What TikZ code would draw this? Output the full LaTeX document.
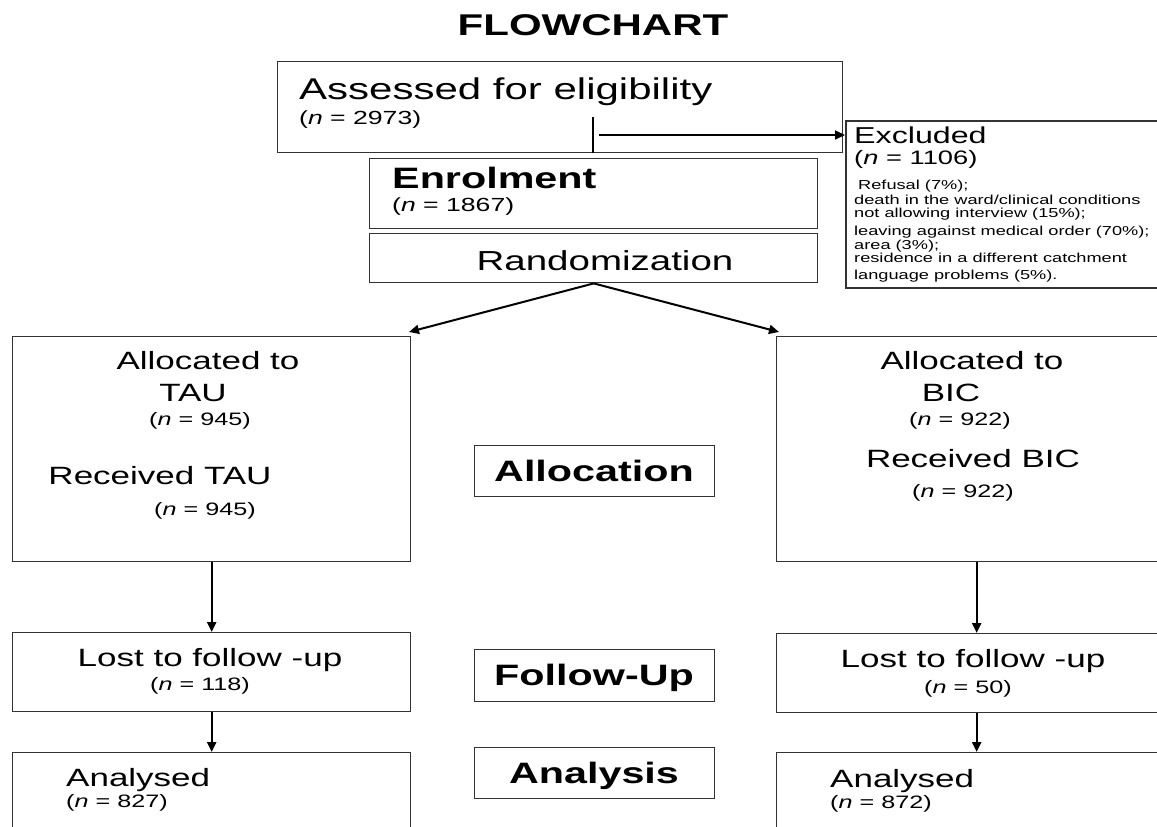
\documentclass[tikz,border=0pt]{standalone}
\usepackage{fontspec}
\setmainfont{Liberation Sans}[FakeStretch=1.4]
\usetikzlibrary{arrows.meta}
\newcommand{\fsz}[1]{\fontsize{#1pt}{#1pt}\selectfont}
\begin{document}
\begin{tikzpicture}[x=1pt,y=-1pt,
  box/.style={draw=black!80,line width=1.4pt,inner sep=0pt,anchor=north west},
  txt/.style={inner sep=0pt,anchor=base west},
  ctxt/.style={inner sep=0pt,anchor=base},
  conn/.style={line width=2.4pt,-{Triangle[length=10pt,width=9pt]}}]
\useasboundingbox (0,0) rectangle (1157,827);
\clip (0,0) rectangle (1157,827);
% title
\node[ctxt,font=\bfseries\fsz{30}] (title) at (593,35) {FLOWCHART};
% assessed
\node[box,minimum width=565pt,minimum height=91pt] (assess) at (277,61) {};
\node[txt,font=\fsz{30}] (assesst) at (299,99) {Assessed for eligibility};
\node[txt,font=\fsz{19}] (assessn) at (299,124) {(\textit{n} = 2973)};
% excluded
\node[box,minimum width=330pt,minimum height=167pt,line width=2pt] (excl) at (845,120) {};
\node[txt,font=\fsz{23}] (exclt) at (854,143) {Excluded};
\node[txt,font=\fsz{19.5}] (excln) at (854,164) {(\textit{n} = 1106)};
\node[txt,font=\fsz{13}] (ex1) at (858,189) {Refusal (7\%);};
\node[txt,font=\fsz{13}] (ex2) at (854,204) {death in the ward/clinical conditions};
\node[txt,font=\fsz{13}] (ex3) at (854,217) {not allowing interview (15\%);};
\node[txt,font=\fsz{13}] (ex4) at (854,235) {leaving against medical order (70\%);};
\node[txt,font=\fsz{13}] (ex5) at (854,249) {area (3\%);};
\node[txt,font=\fsz{13}] (ex6) at (854,262) {residence in a different catchment};
\node[txt,font=\fsz{13}] (ex7) at (854,279) {language problems (5\%).};
% enrolment
\node[box,minimum width=448pt,minimum height=70pt] (enrol) at (369,158) {};
\node[txt,font=\bfseries\fsz{29.5}] (enrolt) at (392,188) {Enrolment};
\node[txt,font=\fsz{19}] (enroln) at (392,211) {(\textit{n} = 1867)};
% randomization
\node[box,minimum width=448pt,minimum height=49pt] (rand) at (369,233) {};
\node[ctxt,font=\fsz{27.5}] (randt) at (605,270) {Randomization};
% left column
\node[box,minimum width=398pt,minimum height=225pt] (lalloc) at (12,336) {};
\node[ctxt,font=\fsz{25}] (la1) at (208,369) {Allocated to};
\node[ctxt,font=\fsz{25}] (la2) at (193,401) {TAU};
\node[ctxt,font=\fsz{18}] (la3) at (200,425) {(\textit{n} = 945)};
\node[ctxt,font=\fsz{25}] (la4) at (160,484) {Received TAU};
\node[ctxt,font=\fsz{18}] (la5) at (205,515) {(\textit{n} = 945)};
\node[box,minimum width=398pt,minimum height=79pt] (llost) at (12,632) {};
\node[ctxt,font=\fsz{25}] (ll1) at (210,666) {Lost to follow -up};
\node[ctxt,font=\fsz{18}] (ll2) at (200,690) {(\textit{n} = 118)};
\node[box,minimum width=398pt,minimum height=120pt] (lana) at (12,752) {};
\node[txt,font=\fsz{25}] (lan1) at (66,786) {Analysed};
\node[txt,font=\fsz{18}] (lan2) at (66,807) {(\textit{n} = 827)};
% middle labels
\node[box,minimum width=240pt,minimum height=51pt] (malloc) at (474,445) {};
\node[ctxt,font=\bfseries\fsz{29.5}] (mallt) at (594,481) {Allocation};
\node[box,minimum width=240pt,minimum height=52pt] (mfollow) at (474,649) {};
\node[ctxt,font=\bfseries\fsz{29.5}] (mfolt) at (594,685) {Follow-Up};
\node[box,minimum width=240pt,minimum height=51pt] (mana) at (474,747) {};
\node[ctxt,font=\bfseries\fsz{29.5}] (manat) at (594,783) {Analysis};
% right column
\node[box,minimum width=400pt,minimum height=225pt] (ralloc) at (776,336) {};
\node[ctxt,font=\fsz{25}] (ra1) at (972,369) {Allocated to};
\node[ctxt,font=\fsz{25}] (ra2) at (951,401) {BIC};
\node[ctxt,font=\fsz{18}] (ra3) at (960,425) {(\textit{n} = 922)};
\node[ctxt,font=\fsz{25}] (ra4) at (973,467) {Received BIC};
\node[ctxt,font=\fsz{18}] (ra5) at (963,497) {(\textit{n} = 922)};
\node[box,minimum width=400pt,minimum height=79pt] (rlost) at (776,633) {};
\node[ctxt,font=\fsz{25}] (rl1) at (973,667) {Lost to follow -up};
\node[ctxt,font=\fsz{18}] (rl2) at (968,693) {(\textit{n} = 50)};
\node[box,minimum width=400pt,minimum height=120pt] (rana) at (776,752) {};
\node[txt,font=\fsz{25}] (ran1) at (830,787) {Analysed};
\node[txt,font=\fsz{18}] (ran2) at (830,808) {(\textit{n} = 872)};
% connectors
\coordinate (vtop) at (593,117);
\draw[line width=1.6pt] (vtop) -- (vtop |- assess.south);
\coordinate (astart) at (599,135);
\draw[conn,line width=2pt] (astart) -- (astart -| excl.west);
\coordinate (ltip) at (409,332);
\coordinate (rtip) at (779,332);
\draw[conn,line width=2pt] (rand.south) -- (ltip);
\draw[conn,line width=2pt] (rand.south) -- (rtip);
\draw[conn] (lalloc.south) -- (llost.north);
\draw[conn] (llost.south) -- (lana.north);
\draw[conn] (ralloc.south) -- (rlost.north);
\draw[conn] (rlost.south) -- (rana.north);
\end{tikzpicture}
\end{document}
